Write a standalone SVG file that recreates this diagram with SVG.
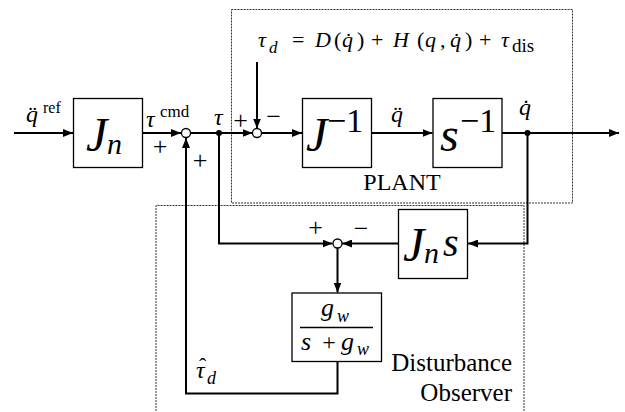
<svg xmlns="http://www.w3.org/2000/svg" width="625" height="412" viewBox="0 0 625 412">
<defs>
<style>
.box{fill:#fff;stroke:#000;stroke-width:1.3}
.ln{fill:none;stroke:#000;stroke-width:2}
.dash{fill:none;stroke:#333;stroke-width:1;stroke-dasharray:2 1}
.sum{fill:#fff;stroke:#000;stroke-width:1.3}
.dot{fill:#000}
.m{font-style:italic;fill:#000}
.r{font-style:normal;fill:#000}
.sg{font-size:26px;text-anchor:middle;fill:#000}
</style>
<marker id="ah" markerUnits="userSpaceOnUse" markerWidth="10" markerHeight="8" viewBox="0 0 10 8" refX="10" refY="4" orient="auto">
<path d="M0,0 L10,4 L0,8 z" fill="#000"/>
</marker>
</defs>
<rect width="625" height="412" fill="#fff"/>
<g font-family="Liberation Serif, Times New Roman, DejaVu Serif, serif">
<g id="plant-frame">
<rect class="dash" x="231.5" y="9.5" width="341" height="193.5"/>
<text class="r" x="402" y="190" font-size="24" text-anchor="middle">PLANT</text>
</g>
<g id="dob-frame">
<path class="dash" d="M156,414 V205.5 H524 V414"/>
<text class="r" x="512" y="371" font-size="25" text-anchor="end">Disturbance</text>
<text class="r" x="512" y="401" font-size="25" text-anchor="end">Observer</text>
</g>

<g id="connectors">
<path class="ln" d="M14,133 H73" marker-end="url(#ah)"/>
<path class="ln" d="M143,133 H181" marker-end="url(#ah)"/>
<path class="ln" d="M190.5,133 H252.5" marker-end="url(#ah)"/>
<path class="ln" d="M257,62 V128.5" marker-end="url(#ah)"/>
<path class="ln" d="M261.5,133 H302" marker-end="url(#ah)"/>
<path class="ln" d="M372,133 H432.5" marker-end="url(#ah)"/>
<path class="ln" d="M502,133 H619" marker-end="url(#ah)"/>
<path class="ln" d="M527.5,133 V243.5 H468" marker-end="url(#ah)"/>
<path class="ln" d="M398,243.5 H342" marker-end="url(#ah)"/>
<path class="ln" d="M219,133 V243.5 H332.5" marker-end="url(#ah)"/>
<path class="ln" d="M337.5,248 V292.5" marker-end="url(#ah)"/>
<path class="ln" d="M337.5,362 V393.5 H186 V138" marker-end="url(#ah)"/>
<circle class="dot" cx="219" cy="133" r="3"/>
<circle class="dot" cx="527.5" cy="133" r="3"/>
</g>

<g id="sum1"><circle class="sum" cx="186" cy="133" r="4.5"/></g>
<g id="sum2"><circle class="sum" cx="257" cy="133" r="4.5"/></g>
<g id="sum3"><circle class="sum" cx="337.5" cy="243.5" r="4.5"/></g>

<g id="Jn">
<rect class="box" x="73.5" y="98.5" width="69" height="69"/>
<text class="m" x="86" y="151" font-size="48">J</text>
<text class="m" x="107" y="154" font-size="30">n</text>
</g>
<g id="Jinv">
<rect class="box" x="302.5" y="98.5" width="69" height="69"/>
<text class="m" x="306" y="151" font-size="48">J</text>
<text class="r" x="327" y="132" font-size="34">−1</text>
</g>
<g id="sinv">
<rect class="box" x="433" y="98.5" width="69" height="69"/>
<text class="m" x="440" y="151" font-size="48">s</text>
<text class="r" x="460" y="132" font-size="34">−1</text>
</g>
<g id="Jns">
<rect class="box" x="398.5" y="209.5" width="69" height="69"/>
<text class="m" x="403" y="261" font-size="48">J</text>
<text class="m" x="424" y="263" font-size="30">n</text>
<text class="m" x="443" y="256" font-size="40">s</text>
</g>
<g id="filter">
<rect class="box" x="292" y="293" width="89.5" height="68.5"/>
<line x1="300" y1="327.5" x2="373" y2="327.5" stroke="#000" stroke-width="1.3"/>
<text class="m" x="321" y="316" font-size="26">g</text>
<text class="m" x="337" y="322" font-size="18">w</text>
<text class="m" x="301" y="350" font-size="26">s</text>
<text class="r" x="329" y="350" font-size="24" text-anchor="middle">+</text>
<text class="m" x="341" y="350" font-size="26">g</text>
<text class="m" x="357" y="355" font-size="18">w</text>
</g>

<g id="labels">
<text class="m" x="26" y="122" font-size="24">q̈</text>
<text class="r" x="43" y="113" font-size="16">ref</text>
<text class="m" x="146" y="127" font-size="24">τ</text>
<text class="r" x="160" y="117" font-size="17">cmd</text>
<text class="m" x="214" y="125" font-size="24">τ</text>
<text class="m" x="397" y="122" font-size="24" text-anchor="middle">q̈</text>
<text class="m" x="525" y="115" font-size="24" text-anchor="middle">q̇</text>
<text class="m" x="196" y="378" font-size="24">τ<tspan class="r" x="199" y="373" font-size="22">ˆ</tspan><tspan x="207" y="384" font-size="18">d</tspan></text>
<text class="sg" x="160" y="155">+</text>
<text class="sg" x="200" y="169">+</text>
<text class="sg" x="240.5" y="129">+</text>
<text class="sg" x="273.5" y="125">−</text>
<text class="sg" x="315.5" y="236">+</text>
<text class="sg" x="361" y="237">−</text>
</g>

<g id="tau-d-eq">
<text font-size="22"><tspan class="m" x="258" y="47">τ</tspan><tspan class="m" x="269" y="53" font-size="17">d</tspan><tspan class="r" x="292" y="47">=</tspan><tspan class="m" x="315" y="47">D</tspan><tspan class="r" x="334" y="47">(</tspan><tspan class="m" x="342" y="47">q̇</tspan><tspan class="r" x="357" y="47">)</tspan><tspan class="r" x="371" y="47">+</tspan><tspan class="m" x="393" y="47">H</tspan><tspan class="r" x="417" y="47">(</tspan><tspan class="m" x="425" y="47">q</tspan><tspan class="r" x="440" y="47">,</tspan><tspan class="m" x="450" y="47">q̇</tspan><tspan class="r" x="465" y="47">)</tspan><tspan class="r" x="479" y="47">+</tspan><tspan class="m" x="501" y="47">τ</tspan><tspan class="r" x="512" y="52" font-size="19">dis</tspan></text>
</g>
</g>
</svg>
